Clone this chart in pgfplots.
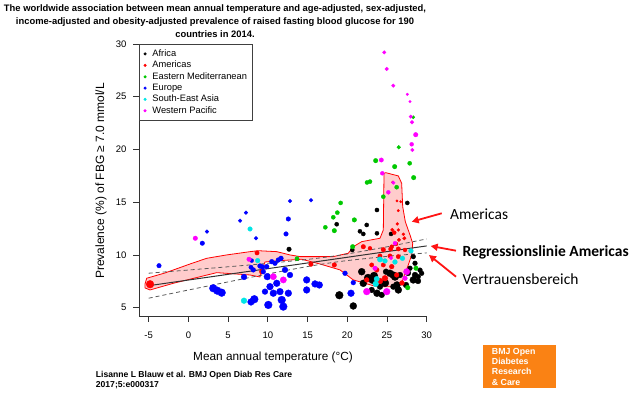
\documentclass[border=0pt]{standalone}
\usepackage{pgfplots}
\pgfplotsset{compat=1.18}
\usepackage{fontspec}
\setmainfont{Liberation Sans}
\newfontfamily\calibri{Carlito}
\usetikzlibrary{arrows.meta}
\definecolor{afr}{RGB}{0,0,0}
\definecolor{ame}{RGB}{255,0,0}
\definecolor{emg}{RGB}{0,200,0}
\definecolor{eur}{RGB}{0,0,255}
\definecolor{sea}{RGB}{0,230,230}
\definecolor{wpm}{RGB}{255,0,255}
\definecolor{bmjorange}{RGB}{250,130,20}
\definecolor{arrred}{RGB}{255,20,20}
\pgfplotsset{
  region/.style={scatter, only marks, mark=*, forget plot,
    mark options={draw=#1, fill=#1, line width=0.3pt},
    scatter/use mapped color={draw=#1, fill=#1},
    visualization depends on={\thisrow{s}\as\ms},
    scatter/@pre marker code/.append style={/tikz/mark size=\ms},
  },
}
\begin{document}
\begin{tikzpicture}[x=1pt,y=1pt]
\useasboundingbox (0,0) rectangle (640,395);
\begin{axis}[
  at={(139pt,79pt)}, anchor=south west,
  scale only axis, width=288pt, height=272pt,
  xmin=-6.22, xmax=30.04, ymin=4.21, ymax=30,
  axis x line*=bottom, axis y line*=left,
  axis line style={-, black!80, line width=0.7pt},
  xtick={-5,0,...,30}, ytick={5,10,...,30},
  tick align=outside, major tick length=6pt,
  tick style={black!80, line width=0.7pt},
  /pgf/number format/assume math mode=true,
  ticklabel style={font=\fontsize{9.5}{11}\selectfont},
  xticklabel style={yshift=-6pt},
  yticklabel style={xshift=-3pt},
  legend style={at={(0,1)}, anchor=north west, draw=black!75, line width=0.6pt,
    fill=white, font=\fontsize{9.3}{10}\selectfont, inner xsep=4pt, inner ysep=4pt,
    row sep=0.2pt, nodes={inner sep=1.5pt}},
  legend cell align=left,
  legend image code/.code={\fill[#1] (1.5pt,0pt) circle (1.2pt); \path (0pt,0pt) (7pt,0pt);},
]
% Africa
\addplot[region=afr] table {
x y s
12.67 10.54 2.3
18.67 12.91 2.1
21.60 12.24 2.1
22.02 11.99 2.1
23.74 14.26 2.1
27.56 14.93 2.1
25.51 11.99 2.1
19.00 6.18 3.9
20.76 5.16 3.5
21.82 8.41 3.5
23.20 7.63 3.9
23.74 6.37 3.5
24.34 6.21 2.9
26.43 6.68 3.5
28.31 7.63 3.5
28.31 9.84 2.4
28.53 9.21 2.4
27.90 8.74 2.4
26.01 7.94 3.9
25.38 8.26 3.5
24.12 6.99 2.9
22.02 7.31 3.5
29.16 8.56 2.4
23.74 12.05 2.1
22.45 12.84 2.1
29.37 8.26 2.4
28.94 7.94 2.4
23.08 6.68 2.9
20.63 10.47 2.1
22.61 7.82 3.9
23.37 8.01 3.9
24.75 7.34 3.9
25.76 8.10 3.5
26.26 7.15 3.5
24.88 8.41 2.9
26.64 8.10 2.9
27.65 8.29 2.9
28.53 8.10 2.9
28.91 7.53 2.9
27.40 7.15 2.9
25.80 6.99 2.9
};
% Americas
\addplot[region=ame] table {
x y s
-4.83 7.22 3.9
8.64 10.19 2.2
9.23 8.41 2.4
15.43 9.12 2.3
18.37 9.05 2.3
22.02 10.78 2.3
24.54 10.50 2.3
25.72 16.89 1.3
25.17 15.90 1.5
26.26 15.12 1.2
26.73 15.05 1.2
26.43 14.20 1.3
26.30 12.94 1.5
26.43 12.37 1.5
25.92 12.11 2.0
27.06 11.96 1.5
26.51 11.42 1.8
26.14 11.04 2.0
25.60 10.78 2.0
25.47 10.57 2.2
26.43 10.57 2.2
27.27 10.47 2.0
22.86 10.63 2.0
24.12 9.90 2.2
25.38 9.90 2.2
26.43 9.84 2.2
23.08 9.05 2.2
24.54 9.05 2.2
25.60 8.89 2.4
23.71 8.58 2.4
26.22 8.10 2.4
24.75 7.79 2.9
22.45 7.63 2.4
24.12 7.53 2.9
26.89 7.34 2.4
27.18 11.58 1.8
25.67 12.37 1.8
};
% Eastern Mediterranean
\addplot[region=emg] table {
x y s
28.31 23.05 1.6
26.48 20.21 1.9
23.58 18.94 2.3
27.86 18.69 2.1
25.97 18.37 2.3
22.49 16.87 2.1
22.86 16.95 2.1
28.36 17.33 2.3
26.22 16.42 2.1
24.54 15.52 2.1
19.17 14.93 2.1
18.75 14.01 2.1
18.24 13.57 2.1
17.24 12.62 2.1
18.37 12.30 2.3
20.89 13.32 2.3
20.68 10.78 2.3
13.67 9.65 2.1
27.61 6.90 2.4
28.65 8.74 2.3
};
% Europe
\addplot[region=eur] table {
x y s
-3.70 8.98 2.3
2.34 12.21 1.9
1.75 11.11 2.3
6.50 13.25 1.9
7.25 14.01 1.9
8.51 11.58 1.9
12.29 11.99 2.3
12.58 13.41 2.3
12.79 15.12 1.9
15.43 15.18 1.9
7.88 8.83 2.2
7.97 9.46 2.0
9.33 8.86 2.4
3.13 6.84 3.9
3.64 6.61 3.9
4.19 6.42 3.9
7.00 7.91 2.9
8.30 5.80 3.9
7.88 5.54 3.4
9.93 7.94 3.4
10.27 6.99 3.4
10.69 6.37 3.4
10.06 5.26 3.9
11.75 5.73 3.9
11.95 5.10 3.9
12.58 6.37 3.4
12.79 8.10 2.9
12.16 8.58 2.9
10.90 9.21 2.4
14.89 7.63 3.4
14.89 6.68 3.4
15.94 7.25 3.4
16.48 7.15 3.4
19.72 8.26 2.4
20.47 6.37 3.4
20.76 7.37 2.4
9.01 8.95 2.4
10.49 9.36 2.4
11.32 9.52 2.4
11.66 9.68 2.4
8.17 8.58 2.4
9.43 8.41 2.4
11.12 7.31 3.4
9.64 6.52 2.9
11.53 6.52 3.4
9.86 8.89 2.4
};
% South-East Asia
\addplot[region=sea] table {
x y s
7.76 12.46 2.3
8.72 9.46 2.4
7.00 5.66 2.9
23.58 7.25 2.9
24.12 9.57 2.7
24.75 9.43 2.4
26.95 9.68 2.4
28.02 10.38 2.4
23.71 7.72 2.7
26.01 9.33 2.4
};
% Western Pacific
\addplot[region=wpm] table {
x y s
0.87 11.58 2.3
7.63 9.59 2.3
10.69 7.94 3.2
11.95 7.63 3.2
22.45 6.52 3.4
24.97 6.52 3.4
23.49 8.74 2.3
27.48 8.41 3.2
26.01 11.11 2.0
24.41 17.74 2.0
24.29 19.00 2.2
25.17 15.94 2.0
24.66 29.21 1.8
24.97 27.63 1.8
25.80 26.05 1.8
27.56 25.23 1.3
27.90 24.53 1.3
27.99 23.11 1.8
28.15 22.58 1.8
28.62 21.40 2.3
28.11 20.49 2.0
28.19 19.95 1.8
25.80 16.85 1.8
25.51 9.71 1.8
27.27 7.79 2.4
};
% Americas highlight region
\addplot[forget plot, draw=red, line width=0.8pt, fill=red, fill opacity=0.2, line join=round] coordinates {
(-5.46,7.25) (-5.25,7.79) (-2.95,8.29) (0.20,9.14) (2.30,9.68) (4.82,10.00)
(7.76,10.31) (8.80,10.40) (11.12,10.31) (12.79,10.00) (14.05,9.84) (18.24,9.84)
(20.13,10.16) (20.76,10.78) (21.82,11.26) (24.12,11.58) (24.54,12.37) (24.63,17.74)
(24.84,17.80) (26.43,17.49) (26.85,16.79) (26.98,14.58) (27.31,13.15) (27.90,11.89)
(28.24,11.11) (28.11,10.00) (27.61,8.89) (27.27,8.26) (26.85,7.31) (26.22,6.99)
(23.71,6.99) (20.76,7.63) (19.09,8.58) (16.57,9.14) (14.26,9.59) (11.53,9.46)
(9.64,9.33) (9.27,8.58) (9.01,7.91) (7.76,8.10) (3.56,8.32) (-1.90,7.31)
(-4.83,6.68) (-5.46,6.87)
} -- cycle;
% regression line and confidence band
\addplot[forget plot, black!80, line width=1pt] coordinates {(-5,7.082) (30,10.855)};
\addplot[forget plot, black!65, line width=0.8pt, dash pattern=on 4pt off 3pt, smooth] coordinates {
(-5,8.267) (0,8.568) (5,8.877) (10,9.201) (15,9.576) (18,9.861) (20,10.091) (25,10.770) (30,11.515)};
\addplot[forget plot, black!65, line width=0.8pt, dash pattern=on 4pt off 3pt, smooth] coordinates {
(-5,5.897) (0,6.674) (5,7.443) (10,8.197) (15,8.900) (18,9.261) (20,9.463) (25,9.862) (30,10.195)};
\addlegendimage{afr}\addlegendentry{Africa}
\addlegendimage{ame}\addlegendentry{Americas}
\addlegendimage{emg}\addlegendentry{Eastern Mediterranean}
\addlegendimage{eur}\addlegendentry{Europe}
\addlegendimage{sea}\addlegendentry{South-East Asia}
\addlegendimage{wpm}\addlegendentry{Western Pacific}
\end{axis}
% title
\node[anchor=base, font=\bfseries\fontsize{9.4}{11}\selectfont] at (215,383.7) {The worldwide association between mean annual temperature and age-adjusted, sex-adjusted,};
\node[anchor=base, font=\bfseries\fontsize{9.4}{11}\selectfont] at (215,370.5) {income-adjusted and obesity-adjusted prevalence of raised fasting blood glucose for 190};
\node[anchor=base, font=\bfseries\fontsize{9.4}{11}\selectfont] at (215,357) {countries in 2014.};
% axis labels
\node[anchor=base, font=\fontsize{11.8}{13}\selectfont] at (273,34.3) {Mean annual temperature (°C)};
\node[rotate=90, anchor=center, font=\fontsize{12}{13}\selectfont] at (101,214) {Prevalence (\%) of FBG ≥ 7.0 mmol/L};
% citation
\node[anchor=base west, inner sep=0, font=\bfseries\fontsize{8.6}{10}\selectfont] at (95.7,17.3) {Lisanne L Blauw et al. BMJ Open Diab Res Care};
\node[anchor=base west, inner sep=0, font=\bfseries\fontsize{8.6}{10}\selectfont] at (95.7,7.3) {2017;5:e000317};
% annotations
\draw[arrred, line width=1.8pt, -{Triangle[length=7pt,width=7pt]}] (441.7,181.7) -- (411.7,173.3);
\draw[arrred, line width=1.8pt, -{Triangle[length=7pt,width=7pt]}] (456,144.3) -- (430.7,149);
\draw[arrred, line width=1.8pt, -{Triangle[length=7pt,width=7pt]}] (456,118.3) -- (429,140);
\node[anchor=base west, inner sep=0, font=\calibri\fontsize{15.5}{17}\selectfont] at (450,175) {Americas};
\node[anchor=base west, inner sep=0, font=\calibri\bfseries\fontsize{15.5}{17}\selectfont] at (462.3,138.3) {Regressionslinie Americas};
\node[anchor=base west, inner sep=0, font=\calibri\fontsize{15.5}{17}\selectfont] at (462.3,110.7) {Vertrauensbereich};
% logo
\fill[bmjorange] (483.3,6.7) rectangle (556,50);
\node[anchor=base west, inner sep=0, text=white, font=\bfseries\fontsize{8.8}{9}\selectfont] at (491.7,40.5) {BMJ Open};
\node[anchor=base west, inner sep=0, text=white, font=\bfseries\fontsize{8.8}{9}\selectfont] at (491.7,30.5) {Diabetes};
\node[anchor=base west, inner sep=0, text=white, font=\bfseries\fontsize{8.8}{9}\selectfont] at (491.7,20) {Research};
\node[anchor=base west, inner sep=0, text=white, font=\bfseries\fontsize{8.8}{9}\selectfont] at (491.7,9.5) {\& Care};
\end{tikzpicture}
\end{document}
